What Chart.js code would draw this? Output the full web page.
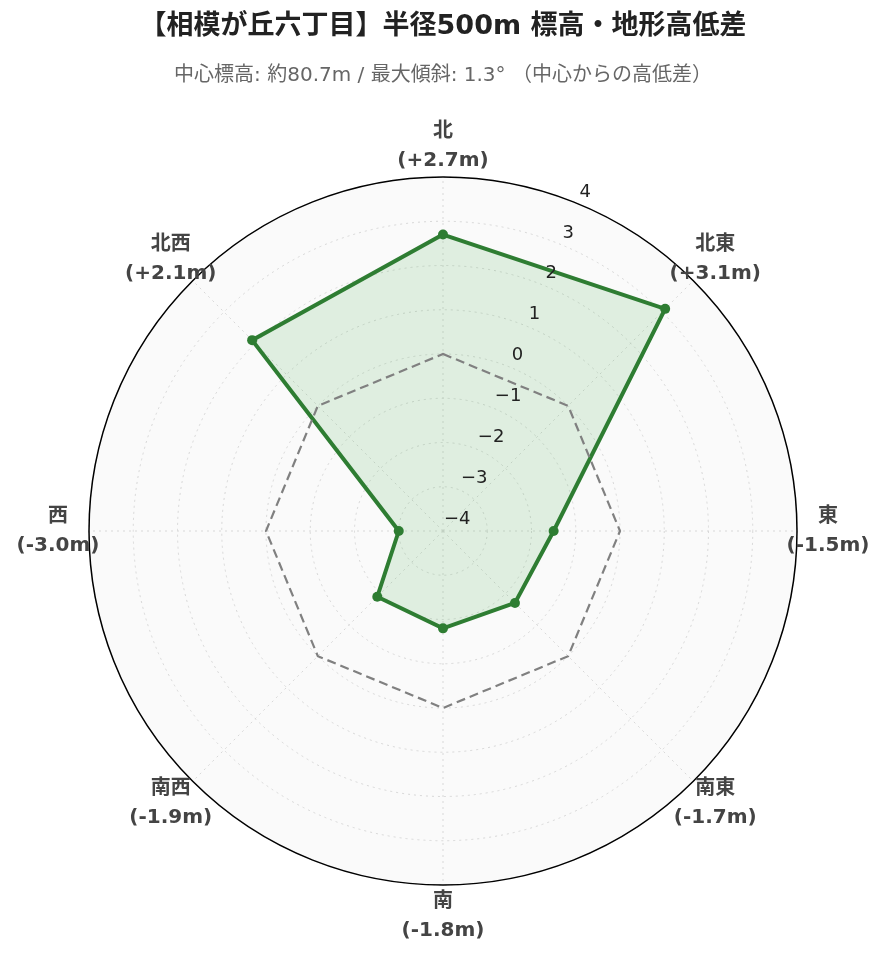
<!DOCTYPE html>
<html lang="ja">
<head>
<meta charset="utf-8">
<title>相模が丘六丁目 標高・地形高低差</title>
<script src="https://cdn.jsdelivr.net/npm/chart.js@4.4.1/dist/chart.umd.min.js"></script>
<style>
  html, body { margin: 0; padding: 0; background: #fff; }
  #wrap { width: 885px; height: 962px; }
</style>
</head>
<body>
<div id="wrap"><canvas id="chartCanvas" width="885" height="962"></canvas></div>
<script>
// 方位と中心からの高低差 (m)
const directions = ['北', '北東', '東', '南東', '南', '南西', '西', '北西'];
const elevDiff = [2.7, 3.1, -1.5, -1.7, -1.8, -1.9, -3.0, 2.1];
const zeroLevel = [0, 0, 0, 0, 0, 0, 0, 0];
const radialTicks = [-4, -3, -2, -1, 0, 1, 2, 3, 4];

const chartTitle = '【相模が丘六丁目】半径500m 標高・地形高低差';
const chartSubtitle = '中心標高: 約80.7m / 最大傾斜: 1.3° （中心からの高低差）';

const labelFont = '"DejaVu Sans", "Noto Sans CJK JP", sans-serif';

function fmtDiff(v) {
    return '(' + (v > 0 ? '+' : '') + v.toFixed(1) + 'm)';
}

// 円形の背景・外周・目盛り・方位ラベル
const polarDecor = {
    id: 'polarDecor',
    beforeDraw(chart) {
        const s = chart.scales.r;
        const ctx = chart.ctx;
        ctx.save();
        ctx.beginPath();
        ctx.arc(s.xCenter, s.yCenter, s.drawingArea, 0, Math.PI * 2);
        ctx.fillStyle = '#fafafa';
        ctx.fill();
        ctx.restore();
    },
    afterDraw(chart) {
        const s = chart.scales.r;
        const ctx = chart.ctx;
        ctx.save();
        // outer ring
        ctx.beginPath();
        ctx.arc(s.xCenter, s.yCenter, s.drawingArea, 0, Math.PI * 2);
        ctx.strokeStyle = '#000';
        ctx.lineWidth = 1.5;
        ctx.stroke();

        // radial tick labels along 22.5deg
        const a = Math.PI / 8;
        ctx.font = '18px ' + labelFont;
        ctx.fillStyle = '#222';
        ctx.textAlign = 'left';
        ctx.textBaseline = 'middle';
        radialTicks.forEach(v => {
            const d = s.getDistanceFromCenterForValue(v);
            const x = s.xCenter + d * Math.sin(a) + 1;
            const y = s.yCenter - d * Math.cos(a) - 12;
            ctx.fillText(String(v).replace('-', '\u2212'), x, y);
        });

        // direction labels
        ctx.font = 'bold 20px ' + labelFont;
        ctx.fillStyle = '#444';
        ctx.textAlign = 'center';
        directions.forEach((name, i) => {
            const p = s.getPointPosition(i, s.drawingArea + 31);
            ctx.fillText(name, p.x, p.y - 14);
            ctx.fillText(fmtDiff(elevDiff[i]), p.x, p.y + 15);
        });
        ctx.restore();
    }
};

const ctx = document.getElementById('chartCanvas').getContext('2d');
new Chart(ctx, {
    type: 'radar',
    data: {
        labels: directions,
        datasets: [
            {
                label: '基準 (0m)',
                data: zeroLevel,
                borderColor: '#808080',
                borderWidth: 2.2,
                borderDash: [9, 5],
                fill: false,
                pointRadius: 0,
                pointHoverRadius: 0
            },
            {
                label: '高低差',
                data: elevDiff,
                borderColor: '#2e7d32',
                backgroundColor: 'rgba(76, 175, 80, 0.15)',
                borderWidth: 4,
                fill: 'start',
                pointRadius: 5,
                pointBackgroundColor: '#2e7d32',
                pointBorderColor: '#2e7d32',
                pointBorderWidth: 0
            }
        ]
    },
    options: {
        responsive: false,
        animation: false,
        layout: {
            padding: { left: 89, right: 88, top: 0, bottom: 0 }
        },
        scales: {
            r: {
                min: -4,
                max: 4,
                afterBuildTicks: scale => {
                    scale.ticks = radialTicks.map(v => ({ value: v }));
                },
                ticks: { display: false },
                pointLabels: { display: false },
                grid: {
                    circular: true,
                    color: '#d8d8d8',
                    lineWidth: 1
                },
                border: { dash: [2, 4] },
                angleLines: {
                    color: '#d8d8d8',
                    lineWidth: 1,
                    borderDash: [2, 4]
                }
            }
        },
        plugins: {
            legend: { display: false },
            tooltip: { enabled: false },
            title: {
                display: true,
                text: chartTitle,
                color: '#222',
                font: { family: labelFont, size: 27, weight: 'bold' },
                padding: { top: 10.8, bottom: 20.8 }
            },
            subtitle: {
                display: true,
                text: chartSubtitle,
                color: '#666',
                font: { family: labelFont, size: 20 },
                padding: { top: 0, bottom: 13 }
            }
        }
    },
    plugins: [polarDecor]
});
</script>
</body>
</html>
